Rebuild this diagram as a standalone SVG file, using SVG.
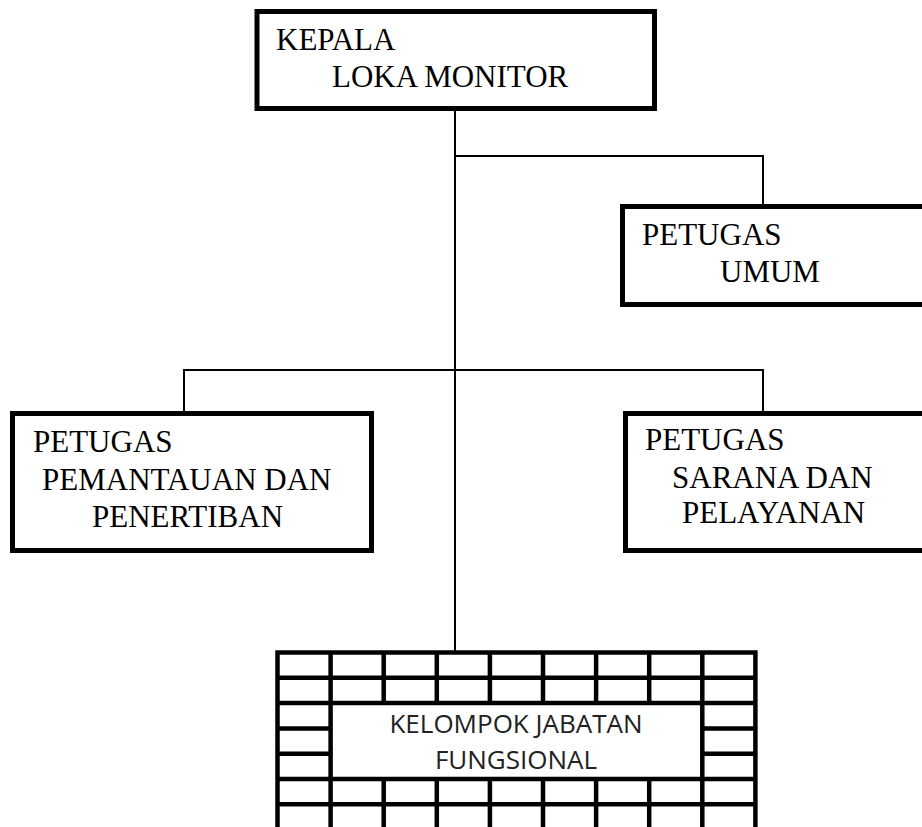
<svg xmlns="http://www.w3.org/2000/svg" width="922" height="827" viewBox="0 0 922 827">
<style>
.box{fill:#fff;stroke:#000;stroke-width:5}
.con{fill:none;stroke:#000;stroke-width:2}
.grid{fill:none;stroke:#000;stroke-width:4.5;stroke-linecap:square}
.t{font-family:"Liberation Serif","Times New Roman",serif;font-size:31px;fill:#000}
.s{font-family:"Open Sans","Liberation Sans",sans-serif;font-size:26px;fill:#222;text-anchor:middle}
</style>
<rect width="922" height="827" fill="#fff"/>
<g id="connectors">
<path class="con" d="M455,108 V652"/>
<path class="con" d="M455,156 H763 V206"/>
<path class="con" d="M184,411 V370 H763 V411"/>
</g>
<g id="kepala">
<rect class="box" x="257" y="11.5" width="397.5" height="97"/>
<text class="t" x="276" y="50">KEPALA</text>
<text class="t" x="332" y="87">LOKA MONITOR</text>
</g>
<g id="umum">
<rect class="box" x="622.5" y="206.5" width="310" height="98"/>
<text class="t" x="642" y="245">PETUGAS</text>
<text class="t" x="720" y="282">UMUM</text>
</g>
<g id="pemantauan">
<rect class="box" x="12.5" y="413.5" width="359" height="137"/>
<text class="t" x="33" y="452">PETUGAS</text>
<text class="t" x="42" y="490">PEMANTAUAN DAN</text>
<text class="t" x="92" y="527">PENERTIBAN</text>
</g>
<g id="sarana">
<rect class="box" x="625.5" y="413.5" width="310" height="137"/>
<text class="t" x="645" y="450">PETUGAS</text>
<text class="t" x="672" y="488">SARANA DAN</text>
<text class="t" x="682" y="523">PELAYANAN</text>
</g>
<g id="fungsional">
<rect x="277.5" y="652.5" width="477.9" height="177" fill="#fff"/>
<path class="grid" d="M277.5,652.5 H755.4 M277.5,677.8 H755.4 M277.5,703.1 H755.4 M277.5,779 H755.4 M277.5,804.3 H755.4 M277.5,829.6 H755.4
M277.5,728.4 H330.6 M277.5,753.7 H330.6 M702.3,728.4 H755.4 M702.3,753.7 H755.4
M277.5,652.5 V829.6 M330.6,652.5 V829.6 M702.3,652.5 V829.6 M755.4,652.5 V829.6
M383.7,652.5 V703.1 M436.8,652.5 V703.1 M489.9,652.5 V703.1 M543,652.5 V703.1 M596.1,652.5 V703.1 M649.2,652.5 V703.1
M383.7,779 V829.6 M436.8,779 V829.6 M489.9,779 V829.6 M543,779 V829.6 M596.1,779 V829.6 M649.2,779 V829.6"/>
<text class="s" x="516" y="733">KELOMPOK JABATAN</text>
<text class="s" x="516" y="769">FUNGSIONAL</text>
</g>
</svg>
